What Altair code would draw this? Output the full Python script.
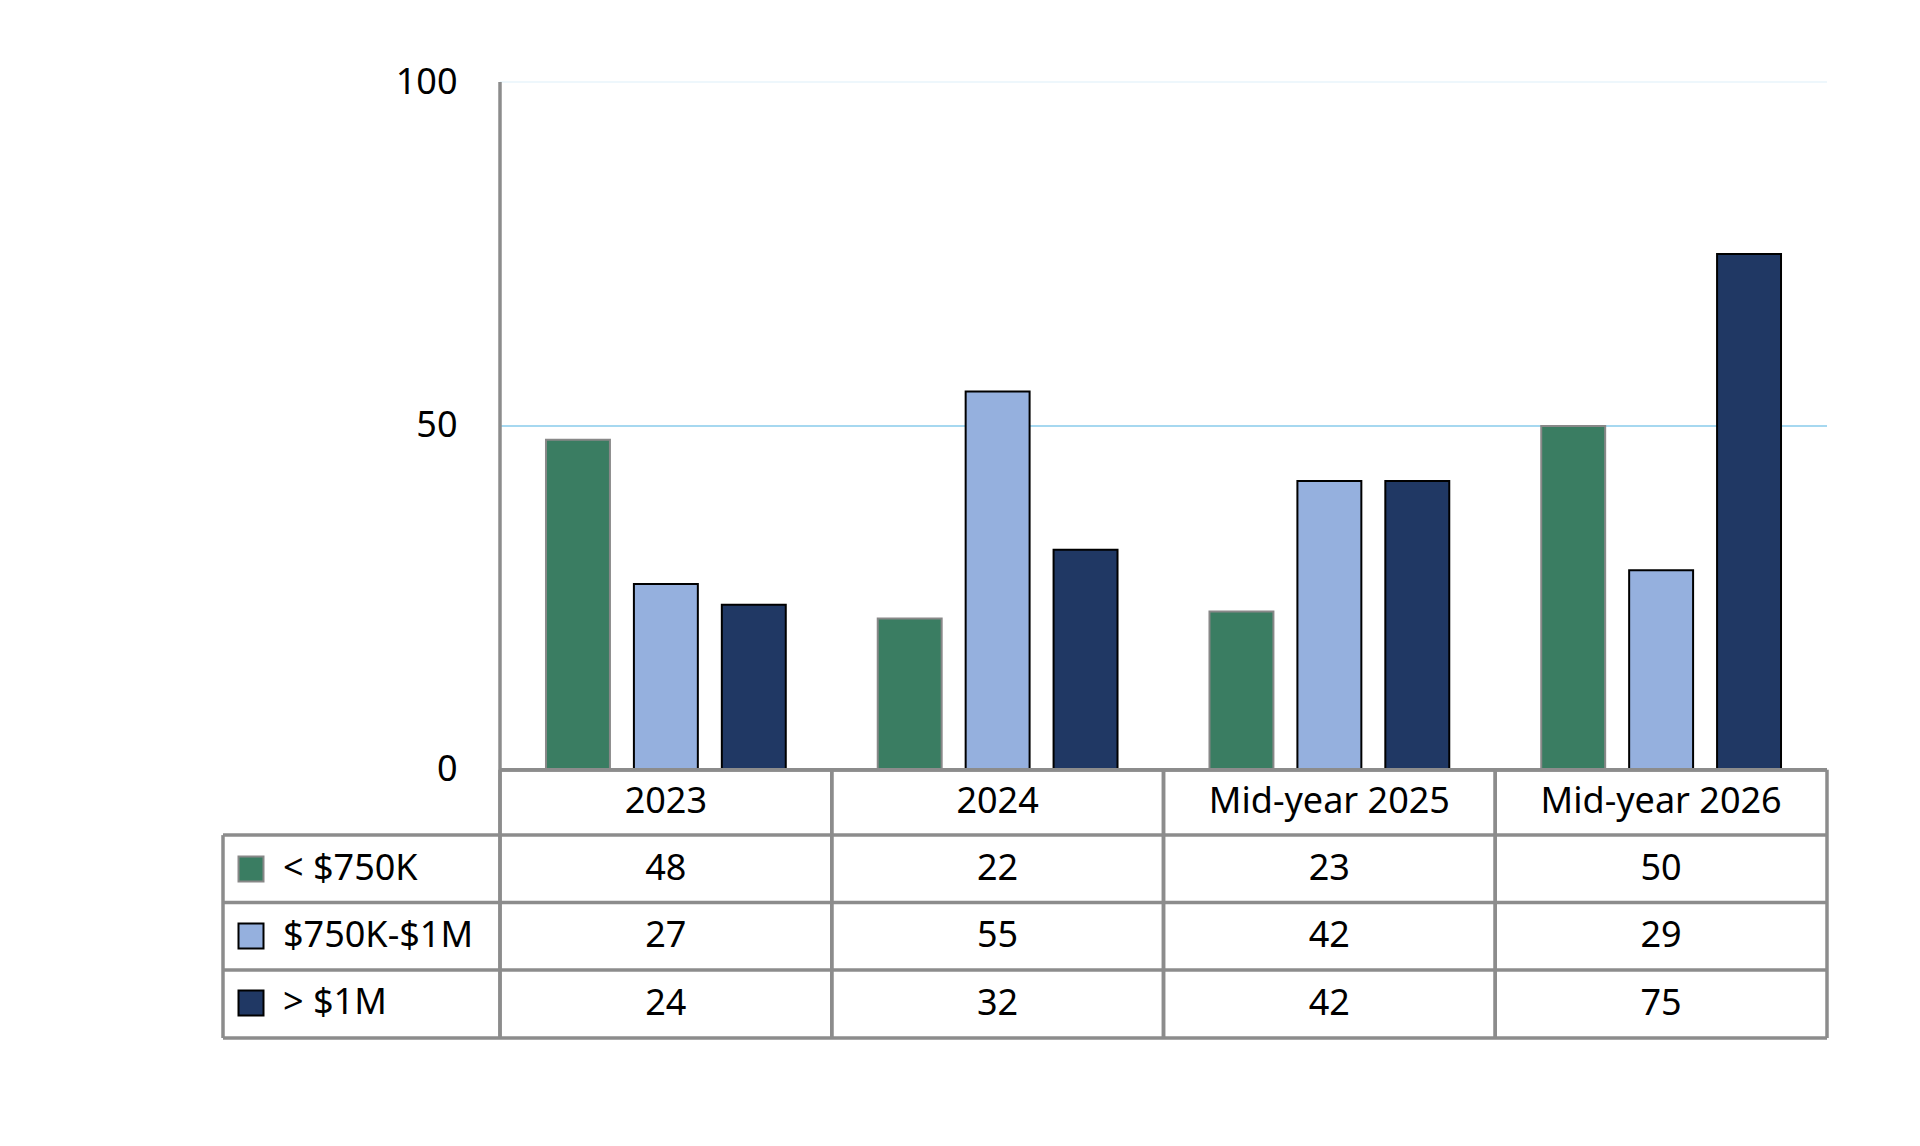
import altair as alt
import pandas as pd

categories = ["2023", "2024", "Mid-year 2025", "Mid-year 2026"]
series = ["< $750K", "$750K-$1M", "> $1M"]
under_750k = [48, 22, 23, 50]
k750_to_1m = [27, 55, 42, 29]
over_1m = [24, 32, 42, 75]

fills = ["#3a7d62", "#95b0de", "#203864"]
strokes = ["#888888", "#000000", "#000000"]

# table rows live below zero on the y scale
row_edges = [0, -9.5, -19.3, -29.1, -39]
header_y = -4.75

W, H = 1327, 956
FONT = "Noto Sans"
GRAY = "#8c8c8c"
FS = 36
LW = 3.5

rows = []
for i, (name, vals) in enumerate(zip(series, [under_750k, k750_to_1m, over_1m])):
    for cat, v in zip(categories, vals):
        rows.append({"period": cat, "series": name, "value": v,
                     "row_y": (row_edges[i + 1] + row_edges[i + 2]) / 2})
df = pd.DataFrame(rows)
hdr = pd.DataFrame({"period": categories, "row_y": header_y})
grid = pd.DataFrame({"level": [50, 100], "col": ["#a6d8f0", "#eef7fc"]})
hlines = pd.DataFrame({"y": row_edges[1:]})

x_enc = alt.X("period:N", sort=categories,
              scale=alt.Scale(domain=categories, paddingInner=0, paddingOuter=0),
              axis=None)
y_scale = alt.Scale(domain=[row_edges[-1], 100], nice=False, zero=False)
y_axis = alt.Axis(values=[0, 50, 100], ticks=False, grid=False, domain=False, title=None,
                  labelPadding=43, labelFontSize=FS, labelFont=FONT, labelColor="#000")


def yq(field):
    return alt.Y(field, scale=y_scale, axis=y_axis, title=None)


gridlines = alt.Chart(grid).mark_rule(strokeWidth=2).encode(
    y=yq("level:Q"),
    color=alt.Color("col:N", scale=None),
)

leg = dict(orient="none", legendX=-267, legendY=769, title=None)
bars = alt.Chart(df).mark_bar(strokeWidth=2).encode(
    x=x_enc,
    xOffset=alt.XOffset("series:N", sort=series,
                        scale=alt.Scale(domain=series, paddingInner=0.2727, paddingOuter=0.523)),
    y=yq("value:Q"),
    color=alt.Color("series:N", sort=series,
                    scale=alt.Scale(domain=series, range=fills),
                    legend=alt.Legend(symbolType="square", symbolSize=625, symbolStrokeWidth=2,
                                      labelFontSize=FS, labelFont=FONT, labelColor="#000",
                                      labelLimit=0, labelOffset=14, rowPadding=31, padding=0,
                                      **leg)),
    stroke=alt.Stroke("series:N", sort=series,
                      scale=alt.Scale(domain=series, range=strokes),
                      legend=alt.Legend(**leg)),
)

values_txt = alt.Chart(df).mark_text(fontSize=FS, font=FONT, color="#000", baseline="middle").encode(
    x=x_enc, y=yq("row_y:Q"), text="value:Q"
)
header_txt = alt.Chart(hdr).mark_text(fontSize=FS, font=FONT, color="#000", baseline="middle").encode(
    x=x_enc, y=yq("row_y:Q"), text="period:N"
)

# y axis line, running down through the table
axis_line = alt.Chart(hdr.head(1)).mark_rule(color=GRAY, strokeWidth=LW).encode(
    x=alt.value(0), y=alt.datum(100), y2=alt.datum(row_edges[-1])
)
top_line = alt.Chart(hdr).mark_rule(color=GRAY, strokeWidth=LW).encode(
    y=alt.datum(0)
)
row_lines = alt.Chart(hlines).mark_rule(color=GRAY, strokeWidth=LW).encode(
    x=alt.value(-277), x2=alt.value(W), y=yq("y:Q")
)
left_edges = alt.Chart(hdr).mark_rule(color=GRAY, strokeWidth=LW).encode(
    x=alt.X("period:N", sort=categories, bandPosition=0, axis=None),
    y=alt.datum(0), y2=alt.datum(row_edges[-1])
)
right_edges = alt.Chart(hdr).mark_rule(color=GRAY, strokeWidth=LW).encode(
    x=alt.X("period:N", sort=categories, bandPosition=1, axis=None),
    y=alt.datum(0), y2=alt.datum(row_edges[-1])
)
legend_border = alt.Chart(hdr.head(1)).mark_rule(color=GRAY, strokeWidth=LW).encode(
    x=alt.value(-277), y=alt.datum(row_edges[1]), y2=alt.datum(row_edges[-1])
)

chart = alt.layer(
    gridlines, bars, values_txt, header_txt, axis_line,
    top_line, row_lines, left_edges, right_edges, legend_border
).properties(
    width=W, height=H,
    autosize=alt.AutoSizeParams(type="none"),
    padding={"left": 492, "top": 74, "right": 80, "bottom": 95},
).configure_view(stroke=None)

chart.save("out.html", embed_options={"renderer": "svg", "actions": False})
